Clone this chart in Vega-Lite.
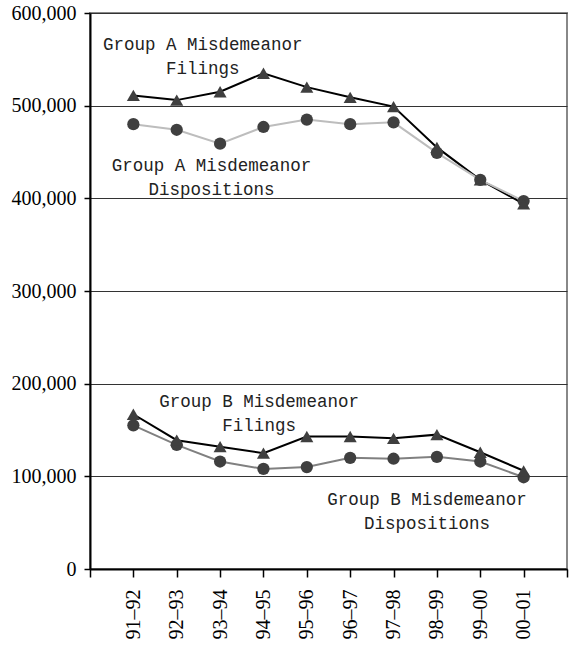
{
  "$schema": "https://vega.github.io/schema/vega-lite/v6.json",
  "autosize": "none",
  "width": 477,
  "height": 556,
  "padding": {"left": 90, "top": 13, "right": 2, "bottom": 76},
  "background": "white",
  "config": {
    "view": {"stroke": "#888888", "strokeWidth": 2},
    "axis": {"domainColor": "#000", "tickColor": "#000", "labelColor": "#000", "labelFont": "Liberation Serif"}
  },
  "datasets": {
    "series": [
      {"year": 1991, "series": "A Filings", "value": 511000},
      {"year": 1992, "series": "A Filings", "value": 506000},
      {"year": 1993, "series": "A Filings", "value": 515000},
      {"year": 1994, "series": "A Filings", "value": 535000},
      {"year": 1995, "series": "A Filings", "value": 520000},
      {"year": 1996, "series": "A Filings", "value": 509000},
      {"year": 1997, "series": "A Filings", "value": 499000},
      {"year": 1998, "series": "A Filings", "value": 455000},
      {"year": 1999, "series": "A Filings", "value": 420000},
      {"year": 2000, "series": "A Filings", "value": 394000},
      {"year": 1991, "series": "A Dispositions", "value": 480000},
      {"year": 1992, "series": "A Dispositions", "value": 474000},
      {"year": 1993, "series": "A Dispositions", "value": 459000},
      {"year": 1994, "series": "A Dispositions", "value": 477000},
      {"year": 1995, "series": "A Dispositions", "value": 485000},
      {"year": 1996, "series": "A Dispositions", "value": 480000},
      {"year": 1997, "series": "A Dispositions", "value": 482000},
      {"year": 1998, "series": "A Dispositions", "value": 449000},
      {"year": 1999, "series": "A Dispositions", "value": 420000},
      {"year": 2000, "series": "A Dispositions", "value": 397000},
      {"year": 1991, "series": "B Filings", "value": 167000},
      {"year": 1992, "series": "B Filings", "value": 139000},
      {"year": 1993, "series": "B Filings", "value": 132000},
      {"year": 1994, "series": "B Filings", "value": 125000},
      {"year": 1995, "series": "B Filings", "value": 143000},
      {"year": 1996, "series": "B Filings", "value": 143000},
      {"year": 1997, "series": "B Filings", "value": 141000},
      {"year": 1998, "series": "B Filings", "value": 145000},
      {"year": 1999, "series": "B Filings", "value": 126000},
      {"year": 2000, "series": "B Filings", "value": 106000},
      {"year": 1991, "series": "B Dispositions", "value": 155000},
      {"year": 1992, "series": "B Dispositions", "value": 134000},
      {"year": 1993, "series": "B Dispositions", "value": 116000},
      {"year": 1994, "series": "B Dispositions", "value": 108000},
      {"year": 1995, "series": "B Dispositions", "value": 110000},
      {"year": 1996, "series": "B Dispositions", "value": 120000},
      {"year": 1997, "series": "B Dispositions", "value": 119000},
      {"year": 1998, "series": "B Dispositions", "value": 121000},
      {"year": 1999, "series": "B Dispositions", "value": 116000},
      {"year": 2000, "series": "B Dispositions", "value": 99000}
    ],
    "labels": [
      {"year": 1992.6, "value": 565000, "label": "Group A Misdemeanor|Filings"},
      {"year": 1992.8, "value": 435000, "label": "Group A Misdemeanor|Dispositions"},
      {"year": 1993.9, "value": 180000, "label": "Group B  Misdemeanor|Filings"},
      {"year": 1997.77, "value": 74000, "label": "Group B Misdemeanor|Dispositions"}
    ]
  },
  "encoding": {
    "x": {
      "field": "year", "type": "quantitative",
      "scale": {"domain": [1990, 2001], "nice": false, "zero": false},
      "axis": {
        "title": null, "grid": false,
        "values": [1990, 1991, 1992, 1993, 1994, 1995, 1996, 1997, 1998, 1999, 2000, 2001],
        "labelExpr": "datum.value < 1991 || datum.value > 2000 ? '' : substring(toString(datum.value), 2, 4) + '–' + substring(toString(datum.value + 1), 2, 4)",
        "labelAngle": -90, "labelFontSize": 20, "labelPadding": 12,
        "tickSize": 8, "tickWidth": 1.5, "domainWidth": 2
      }
    },
    "y": {
      "field": "value", "type": "quantitative",
      "scale": {"domain": [0, 600000], "nice": false},
      "axis": {
        "title": null, "format": ",d",
        "values": [0, 100000, 200000, 300000, 400000, 500000, 600000],
        "labelFontSize": 20, "labelPadding": 8, "tickSize": 6, "tickWidth": 1.5, "domainWidth": 2,
        "grid": true, "gridColor": "#333333", "gridWidth": 1.2
      }
    }
  },
  "layer": [
    {
      "data": {"name": "series"},
      "mark": {"type": "line", "strokeWidth": 2},
      "encoding": {
        "color": {
          "field": "series", "type": "nominal", "legend": null,
          "scale": {"domain": ["A Filings", "A Dispositions", "B Filings", "B Dispositions"], "range": ["#000000", "#bdbdbd", "#000000", "#808080"]}
        }
      }
    },
    {
      "data": {"name": "series"},
      "transform": [{"filter": "indexof(datum.series, 'Dispositions') >= 0"}],
      "mark": {"type": "point", "shape": "circle", "filled": true, "size": 150, "color": "#3f3f3f", "opacity": 1},
      "encoding": {"detail": {"field": "series", "type": "nominal"}}
    },
    {
      "data": {"name": "series"},
      "transform": [{"filter": "indexof(datum.series, 'Filings') >= 0"}],
      "mark": {"type": "point", "shape": "triangle-up", "filled": true, "size": 170, "color": "#3f3f3f", "opacity": 1},
      "encoding": {"detail": {"field": "series", "type": "nominal"}}
    },
    {
      "data": {"name": "labels"},
      "mark": {"type": "text", "font": "Liberation Mono", "fontSize": 17.5, "lineBreak": "|", "lineHeight": 24, "align": "center", "baseline": "middle", "color": "#222"},
      "encoding": {"text": {"field": "label", "type": "nominal"}}
    }
  ]
}
